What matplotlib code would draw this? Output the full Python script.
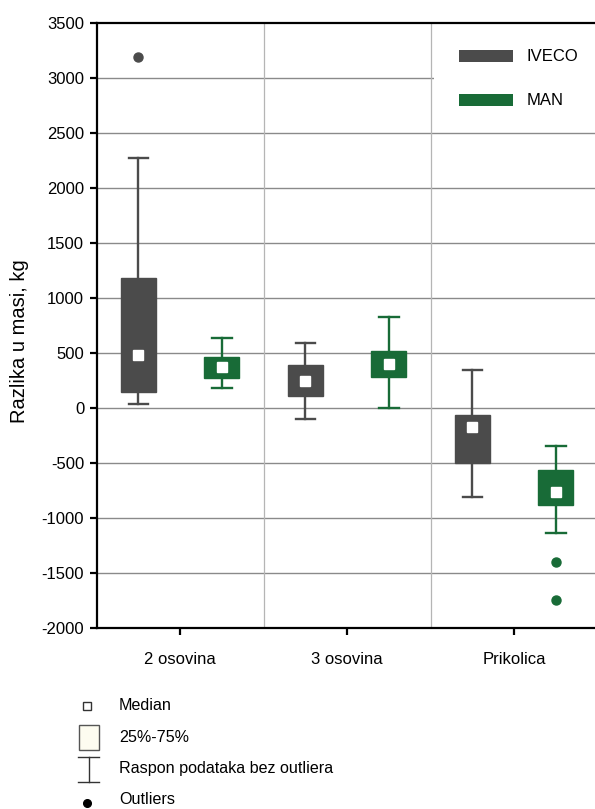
import matplotlib
matplotlib.use('Agg')
import matplotlib.pyplot as plt
from matplotlib.patches import Rectangle
from matplotlib.lines import Line2D

plt.rcParams['font.family'] = ['Liberation Sans', 'DejaVu Sans']
plt.rcParams['axes.unicode_minus'] = False

# 数据
categories = ['2 osovina', '3 osovina', 'Prikolica']
series = ['IVECO', 'MAN']
colors = {'IVECO': '#4b4b4b', 'MAN': '#186b37'}

iveco_whislo = [40, -97, -803]
iveco_q1 = [145, 109, -497]
iveco_med = [485, 248, -170]
iveco_q3 = [1182, 394, -61]
iveco_whishi = [2275, 594, 348]
iveco_fliers = [[3197], [], []]

man_whislo = [187, 0, -1130]
man_q1 = [273, 285, -882]
man_med = [378, 400, -761]
man_q3 = [464, 521, -558]
man_whishi = [642, 830, -343]
man_fliers = [[], [], [-1394, -1745]]

W, H = 595, 809
fig = plt.figure(figsize=(W / 100, H / 100), dpi=100)
ax_l, ax_r, ax_t, ax_b = 96.7, 595, 23.3, 628.3
ax = fig.add_axes([ax_l / W, 1 - ax_b / H, (ax_r - ax_l) / W, (ax_b - ax_t) / H])

offset = 0.25
box_w = 0.21
data = {
    'IVECO': (iveco_whislo, iveco_q1, iveco_med, iveco_q3, iveco_whishi, iveco_fliers, -offset),
    'MAN': (man_whislo, man_q1, man_med, man_q3, man_whishi, man_fliers, offset),
}

for name, (lo, q1, med, q3, hi, fl, off) in data.items():
    stats = []
    for i in range(len(categories)):
        stats.append({'whislo': lo[i], 'q1': q1[i], 'med': med[i], 'q3': q3[i],
                      'whishi': hi[i], 'fliers': fl[i]})
    pos = [i + 1 + off for i in range(len(categories))]
    c = colors[name]
    ax.bxp(stats, positions=pos, widths=box_w, patch_artist=True,
           capwidths=0.115, manage_ticks=False, zorder=3,
           boxprops=dict(facecolor=c, edgecolor=c, linewidth=1),
           whiskerprops=dict(color=c, linewidth=1.7),
           capprops=dict(color=c, linewidth=1.7),
           medianprops=dict(linewidth=0),
           flierprops=dict(marker='o', markerfacecolor=c, markeredgecolor=c, markersize=6.5))
    ax.plot(pos, med, linestyle='none', marker='s', markersize=7.5,
            markerfacecolor='white', markeredgecolor='white', zorder=4)

ax.set_xlim(0.5, 0.5 + (ax_r - ax_l) / 167.0)
ax.set_ylim(-2000, 3500)
ax.set_yticks(range(-2000, 3501, 500))
ax.set_xticks([1, 2, 3])
ax.set_xticklabels(categories)
for y in range(-1500, 3500, 500):
    ax.axhline(y, color='#8a8a8a', linewidth=1.0, zorder=1)
for x in [1.5, 2.5]:
    ax.axvline(x, color='#b5b5b5', linewidth=0.9, zorder=1)

for s in ['left', 'bottom', 'top']:
    ax.spines[s].set_linewidth(1.6)
ax.spines['right'].set_visible(False)
ax.tick_params(axis='both', direction='out', length=5, width=1.6, labelsize=12, colors='black')
ax.tick_params(axis='x', pad=12)
ax.tick_params(axis='y', pad=4)

# overlay for legends
ov = fig.add_axes([0, 0, 1, 1])
ov.set_xlim(0, W)
ov.set_ylim(H, 0)
ov.axis('off')
ov.patch.set_alpha(0)

# top-right legend
ov.add_patch(Rectangle((433.5, 24.5), W - 433.5, 105, facecolor='white', edgecolor='none'))
for yy, name in [(56, 'IVECO'), (100, 'MAN')]:
    ov.add_patch(Rectangle((459, yy - 6), 54, 12, facecolor=colors[name], edgecolor='none'))
    ov.text(527, yy, name, fontsize=12, va='center', ha='left')

# bottom legend
ov.add_patch(Rectangle((83, 702), 8, 8, facecolor='white', edgecolor='#333333', linewidth=1))
ov.add_patch(Rectangle((79, 725), 20, 25, facecolor='#fdfcf0', edgecolor='#555555', linewidth=1))
ov.add_line(Line2D([88.5, 88.5], [757, 782], color='#333333', linewidth=1))
ov.add_line(Line2D([78, 99], [757, 757], color='#333333', linewidth=1))
ov.add_line(Line2D([78, 99], [782, 782], color='#333333', linewidth=1))
ov.plot([87], [802.5], marker='o', color='black', markersize=5.5)
for yy, txt in [(706, 'Median'), (737, '25%-75%'), (769, 'Raspon podataka bez outliera'), (800, 'Outliers')]:
    ov.text(119, yy, txt, fontsize=11.6, va='center', ha='left')

fig.text(20 / W, 1 - 341 / H, 'Razlika u masi, kg', rotation=90, fontsize=14.5,
         va='center', ha='center')

fig.savefig('out.png', dpi=100)
